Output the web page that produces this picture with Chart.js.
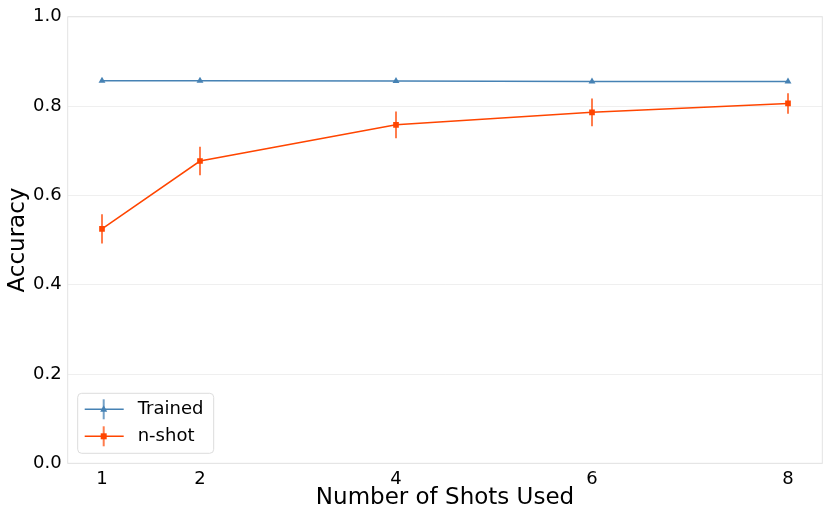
<!DOCTYPE html>
<html>
<head>
<meta charset="utf-8">
<script src="https://cdn.jsdelivr.net/npm/chart.js@4"></script>
<style>
  html, body { margin: 0; padding: 0; background: #fff; }
  #wrap { width: 830px; height: 519px; }
</style>
</head>
<body>
<div id="wrap"><canvas id="chart" width="830" height="519"></canvas></div>
<script>
  // data
  var shots = [1, 2, 4, 6, 8];
  var xTicks = [1, 2, 4, 6, 8];
  var yTicks = [0, 0.2, 0.4, 0.6, 0.8, 1.0];
  var trained = [0.857, 0.857, 0.856, 0.855, 0.855];
  var trainedErr = [0.002, 0.002, 0.002, 0.002, 0.002];
  var nshot = [0.525, 0.677, 0.758, 0.786, 0.806];
  var nshotErr = [0.033, 0.032, 0.030, 0.031, 0.023];

  var blue = '#4682b4';
  var orange = '#ff4500';
  var font = "'DejaVu Sans', sans-serif";

  function toPoints(ys) {
    return shots.map(function(x, i) { return {x: x, y: ys[i]}; });
  }

  // vertical error bars, drawn under the markers
  var errorBars = {
    id: 'errorBars',
    beforeDatasetsDraw: function(chart) {
      var ctx = chart.ctx;
      var xs = chart.scales.x, ys = chart.scales.y;
      chart.data.datasets.forEach(function(ds) {
        ctx.save();
        ctx.strokeStyle = ds.errColor;
        ctx.lineWidth = 2;
        ds.data.forEach(function(p, i) {
          var px = xs.getPixelForValue(p.x);
          ctx.beginPath();
          ctx.moveTo(px, ys.getPixelForValue(p.y - ds.err[i]));
          ctx.lineTo(px, ys.getPixelForValue(p.y + ds.err[i]));
          ctx.stroke();
        });
        ctx.restore();
      });
    }
  };

  // light frame round the plot
  var frame = {
    id: 'frame',
    beforeDatasetsDraw: function(chart) {
      var a = chart.chartArea, ctx = chart.ctx;
      ctx.save();
      ctx.strokeStyle = '#e3e3e3';
      ctx.lineWidth = 1;
      ctx.strokeRect(a.left, a.top, a.right - a.left, a.bottom - a.top);
      ctx.restore();
    }
  };

  // matplotlib-like legend in the lower left corner
  var boxLegend = {
    id: 'boxLegend',
    afterDraw: function(chart) {
      var ctx = chart.ctx;
      var a = chart.chartArea;
      var x0 = a.left + 10, y0 = a.bottom - 70, w = 136, h = 60;
      ctx.save();
      ctx.fillStyle = 'rgba(255,255,255,0.8)';
      ctx.strokeStyle = '#dcdcdc';
      ctx.lineWidth = 1;
      ctx.beginPath();
      ctx.roundRect(x0, y0, w, h, 4);
      ctx.fill();
      ctx.stroke();
      chart.data.datasets.forEach(function(ds, i) {
        var cy = y0 + 16 + i * 27;
        var lx = x0 + 7, mx = x0 + 26;
        ctx.strokeStyle = ds.errColor;
        ctx.lineWidth = 2;
        ctx.beginPath();
        ctx.moveTo(mx, cy - 10);
        ctx.lineTo(mx, cy + 10);
        ctx.stroke();
        ctx.strokeStyle = ds.borderColor;
        ctx.lineWidth = 1.5;
        ctx.beginPath();
        ctx.moveTo(lx, cy);
        ctx.lineTo(lx + 39, cy);
        ctx.stroke();
        ctx.fillStyle = ds.borderColor;
        ctx.beginPath();
        if (ds.pointStyle === 'triangle') {
          ctx.moveTo(mx, cy - 4);
          ctx.lineTo(mx + 3.5, cy + 2.5);
          ctx.lineTo(mx - 3.5, cy + 2.5);
          ctx.closePath();
        } else {
          ctx.rect(mx - 3, cy - 3, 6, 6);
        }
        ctx.fill();
        ctx.fillStyle = '#000';
        ctx.font = '18px ' + font;
        ctx.textBaseline = 'middle';
        ctx.fillText(ds.label, x0 + 60, cy);
      });
      ctx.restore();
    }
  };

  new Chart('chart', {
    type: 'line',
    data: {
      datasets: [
        {
          label: 'Trained',
          data: toPoints(trained),
          err: trainedErr,
          errColor: 'rgba(70,130,180,0.75)',
          borderColor: blue,
          backgroundColor: blue,
          borderWidth: 1.5,
          pointStyle: 'triangle',
          pointRadius: 4,
          pointBorderWidth: 0
        },
        {
          label: 'n-shot',
          data: toPoints(nshot),
          err: nshotErr,
          errColor: 'rgba(255,69,0,0.7)',
          borderColor: orange,
          backgroundColor: orange,
          borderWidth: 1.5,
          pointStyle: 'rect',
          pointRadius: 4,
          pointBorderWidth: 0
        }
      ]
    },
    options: {
      responsive: false,
      animation: false,
      layout: { padding: { top: 14.7, right: 7.7, bottom: 0, left: 0 } },
      plugins: {
        legend: { display: false },
        tooltip: { enabled: false }
      },
      scales: {
        x: {
          type: 'linear',
          min: 0.65,
          max: 8.35,
          afterBuildTicks: function(axis) {
            axis.ticks = xTicks.map(function(v) { return {value: v}; });
          },
          afterFit: function(axis) { axis.height = 55.7; },
          grid: { display: false, drawTicks: false },
          border: { display: false },
          ticks: {
            padding: 5,
            color: '#000',
            font: { family: font, size: 18 },
            callback: function(v) { return String(v); }
          },
          title: {
            display: true,
            text: 'Number of Shots Used',
            color: '#000',
            font: { family: font, size: 23 },
            padding: { top: 0, bottom: 7 }
          }
        },
        y: {
          min: 0,
          max: 1,
          afterBuildTicks: function(axis) {
            axis.ticks = yTicks.map(function(v) { return {value: v}; });
          },
          afterFit: function(axis) { axis.width = 67.7; },
          grid: { color: '#efefef', lineWidth: 1, drawTicks: false },
          border: { display: false },
          ticks: {
            padding: 6,
            color: '#000',
            font: { family: font, size: 18 },
            callback: function(v) { return v.toFixed(1); }
          },
          title: {
            display: true,
            text: 'Accuracy',
            color: '#000',
            font: { family: font, size: 23 },
            padding: { top: 4, bottom: 0 }
          }
        }
      }
    },
    plugins: [frame, errorBars, boxLegend]
  });
</script>
</body>
</html>
